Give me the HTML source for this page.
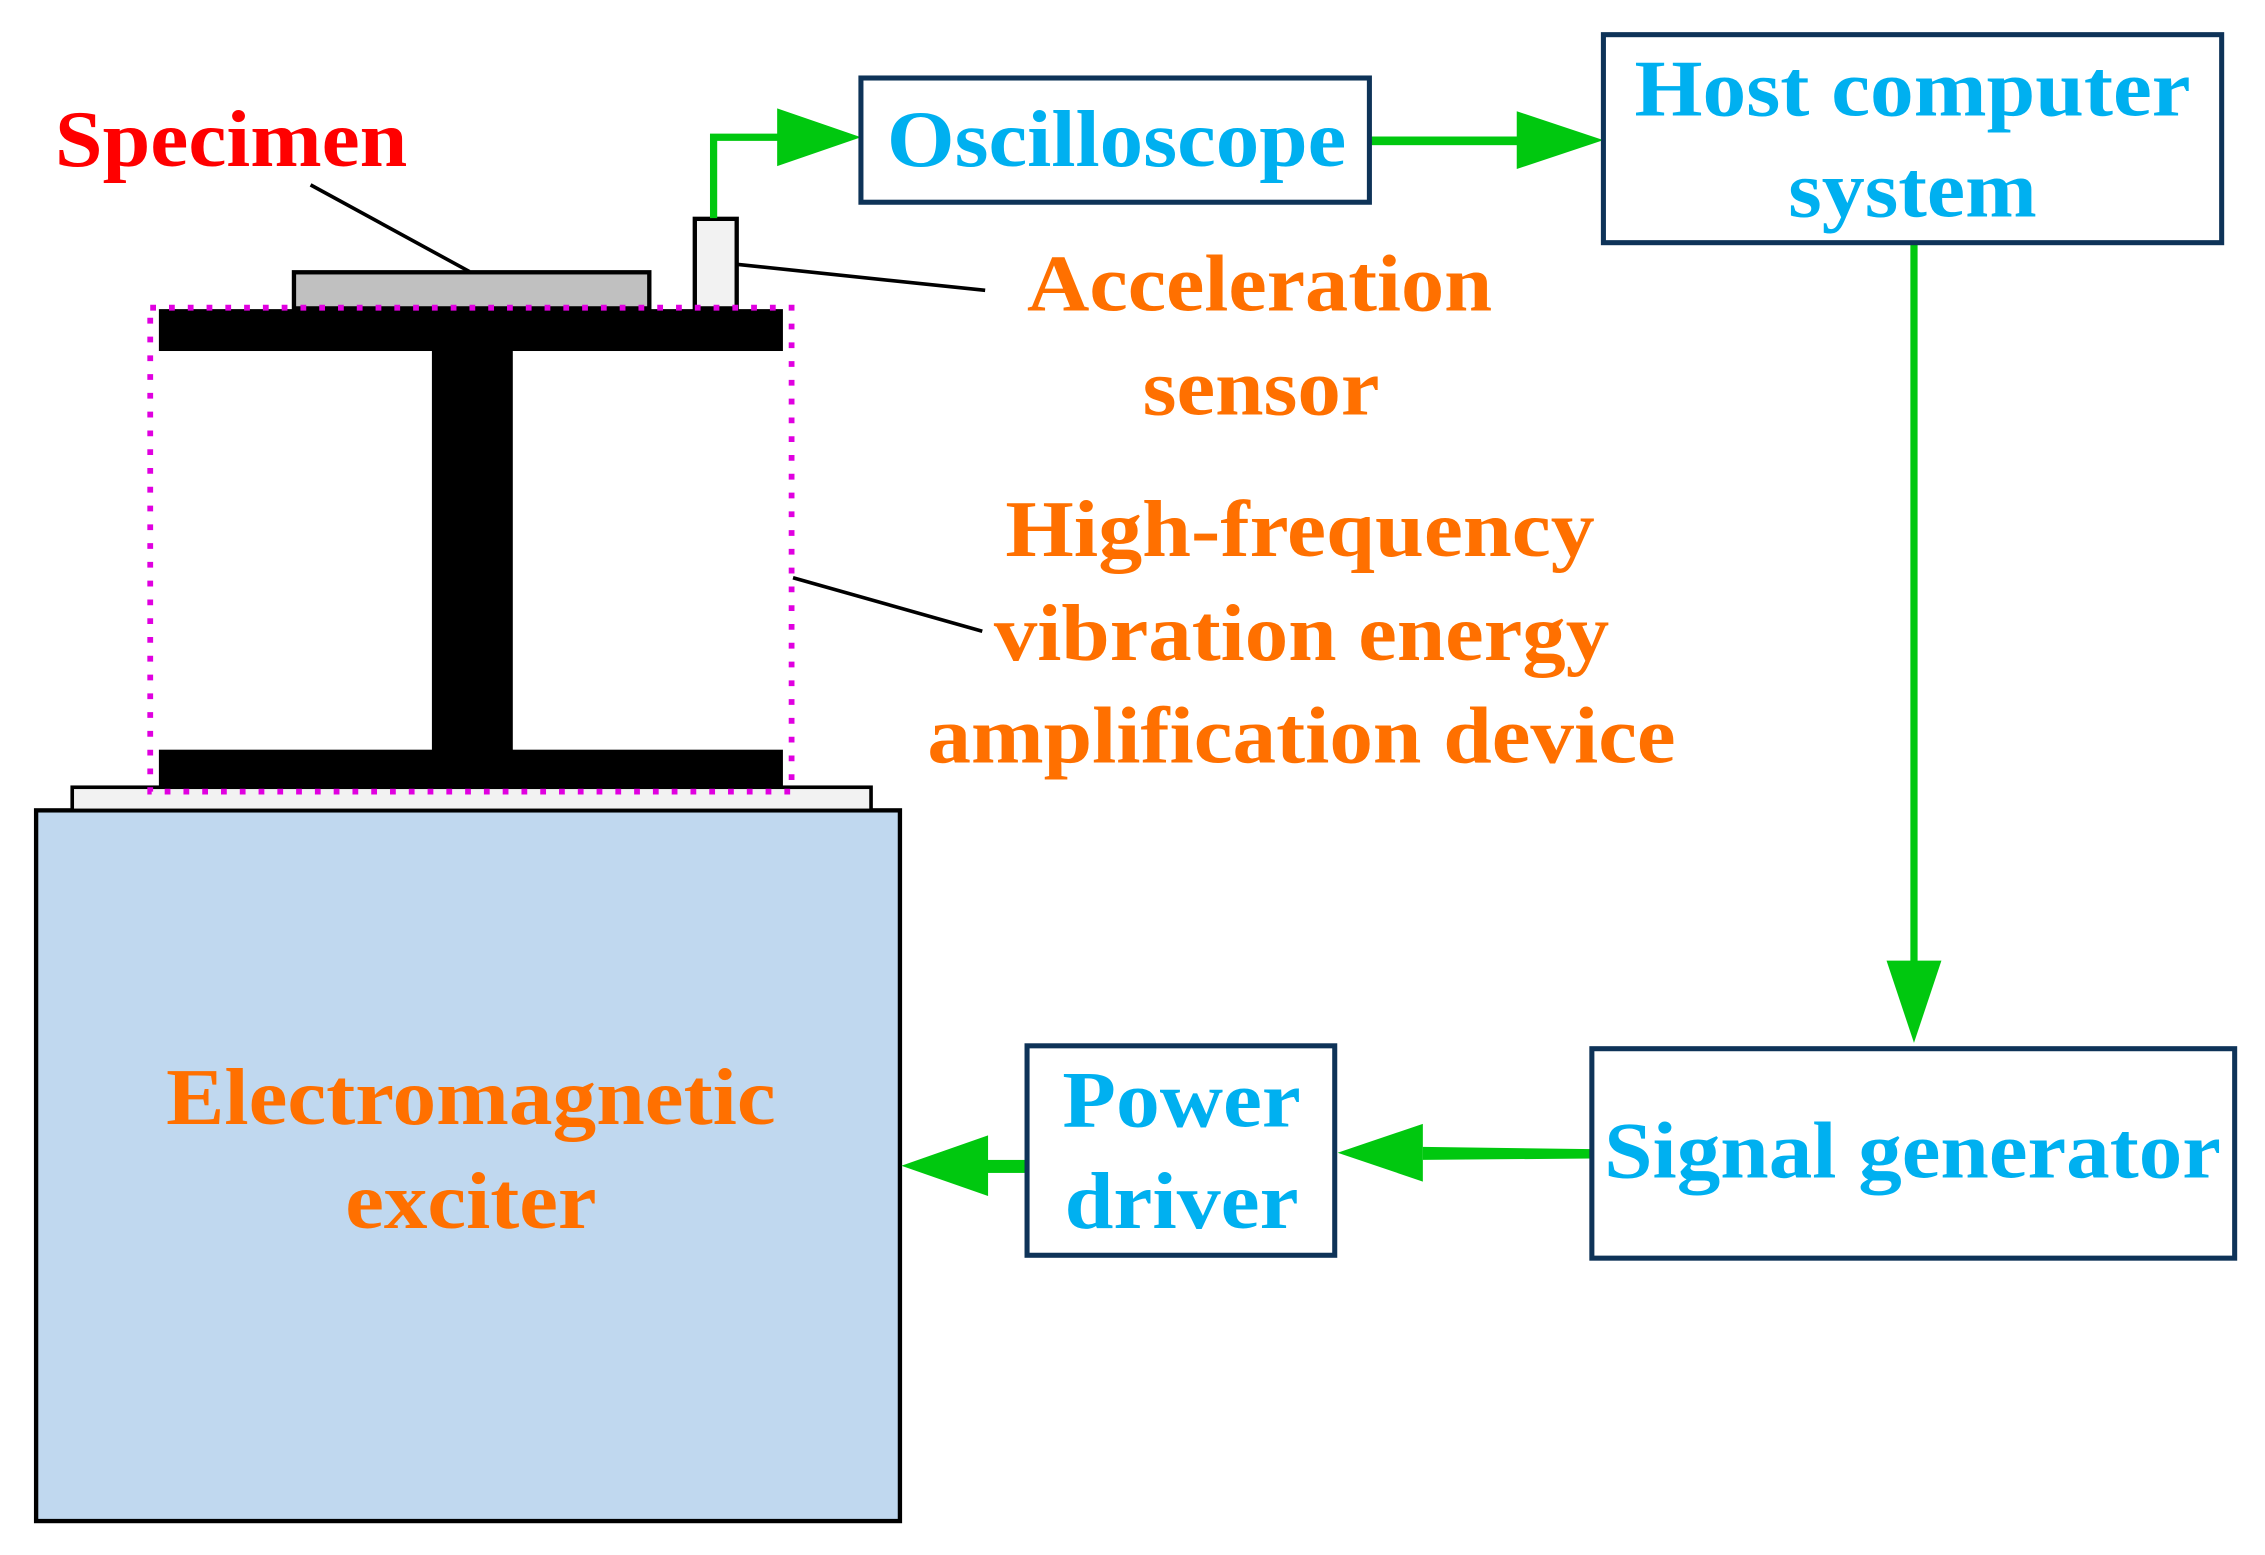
<!DOCTYPE html>
<html><head><meta charset="utf-8"><style>html,body{margin:0;padding:0;background:#fff}svg{display:block}</style></head>
<body>
<svg width="2265" height="1555" viewBox="0 0 1568 1076.5" preserveAspectRatio="none" xmlns="http://www.w3.org/2000/svg" font-family="'Liberation Serif', serif" font-weight="bold">
<rect width="1568" height="1077" fill="#fff"/>
<!-- exciter -->
<rect x="25" y="561" width="598" height="492" fill="#c0d8ef" stroke="#000" stroke-width="3"/>
<rect x="50" y="545" width="553" height="16" fill="#f2f2f2" stroke="#000" stroke-width="2.5"/>
<!-- I beam -->
<rect x="110" y="214" width="432" height="29" fill="#000"/>
<rect x="299" y="242" width="56" height="278" fill="#000"/>
<rect x="110" y="519" width="432" height="27" fill="#000"/>
<!-- specimen & sensor -->
<rect x="203.5" y="188.5" width="246" height="25" fill="#c0c0c0" stroke="#000" stroke-width="3"/>
<rect x="481" y="151.5" width="29" height="62" fill="#f2f2f2" stroke="#000" stroke-width="3"/>
<rect x="104" y="213" width="444" height="335" fill="none" stroke="#e000e0" stroke-width="4" stroke-dasharray="4,9"/>
<!-- leaders -->
<line x1="215" y1="128" x2="325" y2="188" stroke="#000" stroke-width="2.5"/>
<line x1="510" y1="183" x2="682" y2="201" stroke="#000" stroke-width="2.5"/>
<line x1="549" y1="400" x2="680" y2="437" stroke="#000" stroke-width="2.5"/>
<!-- green connectors -->
<g fill="#00c80f" stroke="none">
<path d="M494,151 V95 H540" fill="none" stroke="#00c80f" stroke-width="5"/>
<polygon points="538,75 596,95 538,115"/>
<rect x="948" y="94.5" width="104" height="6"/>
<polygon points="1050,77 1110,97 1050,117"/>
<rect x="1322.5" y="168" width="5" height="500"/>
<polygon points="1306,665 1344,665 1325,722"/>
<polygon points="985,778 926,798 985,818"/>
<polygon points="985,794 1102,795.5 1102,802 985,803"/>
<rect x="680" y="803" width="32" height="9"/>
<polygon points="684,786 624,807 684,828"/>
</g>
<!-- boxes -->
<g fill="#fff" stroke="#0e3358" stroke-width="3.5">
<rect x="596" y="54" width="352" height="86"/>
<rect x="1110" y="24" width="428" height="144"/>
<rect x="1102" y="726" width="445" height="145"/>
<rect x="711" y="724" width="213" height="145"/>
</g>
<!-- texts -->
<g font-size="56" text-anchor="middle">
<text x="160" y="115" fill="#ff0000" textLength="244" lengthAdjust="spacingAndGlyphs">Specimen</text>
<g fill="#00b0f0">
<text x="773" y="115" textLength="318" lengthAdjust="spacingAndGlyphs">Oscilloscope</text>
<text x="1324" y="80" textLength="385" lengthAdjust="spacingAndGlyphs">Host computer</text>
<text x="1324" y="150" textLength="172" lengthAdjust="spacingAndGlyphs">system</text>
<text x="1324" y="815" textLength="427" lengthAdjust="spacingAndGlyphs">Signal generator</text>
<text x="818" y="780" textLength="165" lengthAdjust="spacingAndGlyphs">Power</text>
<text x="818" y="850" textLength="162" lengthAdjust="spacingAndGlyphs">driver</text>
</g>
<g fill="#ff7000">
<text x="872" y="215" textLength="322" lengthAdjust="spacingAndGlyphs">Acceleration</text>
<text x="873" y="287" textLength="164" lengthAdjust="spacingAndGlyphs">sensor</text>
<text x="900" y="385" textLength="408" lengthAdjust="spacingAndGlyphs">High-frequency</text>
<text x="901" y="457" textLength="426" lengthAdjust="spacingAndGlyphs">vibration energy</text>
<text x="901" y="528" textLength="518" lengthAdjust="spacingAndGlyphs">amplification device</text>
<text x="326" y="778" textLength="422" lengthAdjust="spacingAndGlyphs">Electromagnetic</text>
<text x="326" y="850" textLength="174" lengthAdjust="spacingAndGlyphs">exciter</text>
</g>
</g>
</svg>
</body></html>
